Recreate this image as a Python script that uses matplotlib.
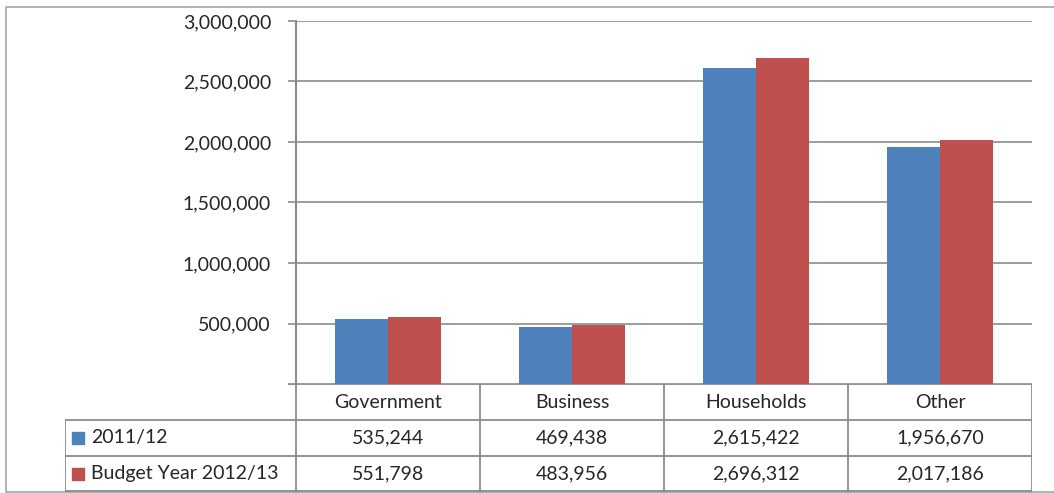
import matplotlib.pyplot as plt
import numpy as np

categories = ["Government", "Business", "Households", "Other"]
series_names = ["2011/12", "Budget Year 2012/13"]
values_2011 = [535244, 469438, 2615422, 1956670]
values_2012 = [551798, 483956, 2696312, 2017186]
yticks = [0, 500000, 1000000, 1500000, 2000000, 2500000, 3000000]

colors = ["#4F81BD", "#C0504D"]
gray = "#8c8c8c"
plt.rcParams['font.family'] = ['Lato', 'DejaVu Sans']

W, H = 1054, 493
fig = plt.figure(figsize=(W / 100, H / 100), dpi=100)


def box(l, t, r, b):
    return [l / W, 1 - b / H, (r - l) / W, (b - t) / H]


# outer chart border
border = fig.add_axes([0, 0, 1, 1])
border.set_xlim(0, W)
border.set_ylim(H, 0)
border.axis("off")
border.plot([6, 6, W], [H - 2, 6.5, 6.5], color="#a6a6a6", lw=1.2)
border.plot([6, W], [H - 1.5, H - 1.5], color="#a6a6a6", lw=1.2)

# bar chart
ax = fig.add_axes(box(296, 21, 1032, 384))
x = np.arange(len(categories))
bw = 0.288
ax.bar(x - bw / 2, values_2011, bw, color=colors[0], zorder=3)
ax.bar(x + bw / 2, values_2012, bw, color=colors[1], zorder=3)
ax.set_xlim(-0.5, len(categories) - 0.5)
ax.set_ylim(0, 3000000)
ax.set_yticks(yticks)
ax.set_yticklabels(["" if v == 0 else f"{v:,}" for v in yticks], fontsize=14, color="#262626")
ax.set_xticks([])
ax.grid(axis="y", color=gray, lw=1.2, zorder=0)
for s in ["top", "right", "bottom"]:
    ax.spines[s].set_visible(False)
ax.spines["left"].set_color(gray)
ax.spines["left"].set_linewidth(1.5)
ax.tick_params(axis="y", length=6, width=1.2, color=gray, pad=12)

# data table below the plot
tab = fig.add_axes(box(65, 384, 1032, 492))
left_edge = -0.5 - (296 - 65) / 184
tab.set_xlim(left_edge, len(categories) - 0.5)
tab.set_ylim(3, 0)
tab.axis("off")
lc = dict(color=gray, lw=1.3)
tab.plot([-0.5 - 7 / 184, len(categories) - 0.5], [0, 0], **lc)
for i in range(len(categories) + 1):
    tab.plot([i - 0.5, i - 0.5], [0, 3], **lc)
for yy in [1, 2, 2.985]:
    tab.plot([left_edge, len(categories) - 0.5], [yy, yy], **lc)
tab.plot([left_edge, left_edge], [1, 3], **lc)

for i, c in enumerate(categories):
    tab.text(i, 0.5, c, ha="center", va="center", fontsize=14, color="#262626")
for r, (name, vals) in enumerate(zip(series_names, [values_2011, values_2012])):
    yy = r + 1.5
    tab.scatter([left_edge + 0.07], [yy], marker="s", s=70, color=colors[r])
    tab.text(left_edge + 0.14, yy, name, ha="left", va="center", fontsize=14, color="#262626")
    for i, v in enumerate(vals):
        tab.text(i, yy, f"{v:,}", ha="center", va="center", fontsize=14, color="#262626")

fig.savefig("out.png", dpi=100)
